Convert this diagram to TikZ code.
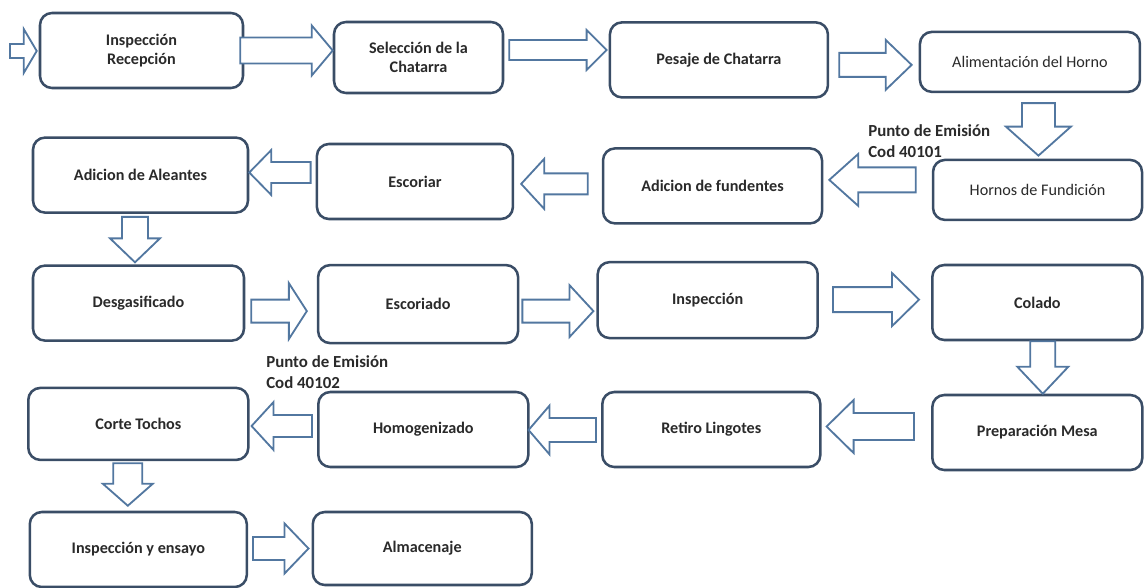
\documentclass[tikz,border=0pt]{standalone}
\usepackage{fontspec}
\setmainfont{Carlito}
\usetikzlibrary{positioning, calc}

\definecolor{boxnavy}{HTML}{3A4D66}
\definecolor{arrowblue}{HTML}{5277A0}
\definecolor{textgray}{HTML}{2A2A2A}

\tikzset{
  arrshaft/.store in=\arrshaft, arrhead/.store in=\arrhead, arrlen/.store in=\arrlen,
  arrshaft=12, arrhead=25, arrlen=24,
  barrow/.style={draw=arrowblue, line width=1.3pt, fill=white, line join=miter,
    to path={let \p1=(\tikztostart), \p2=(\tikztotarget),
      \n1={atan2(\y2-\y1,\x2-\x1)}, \n2={veclen(\x2-\x1,\y2-\y1)} in
      {[shift={(\p1)}, rotate=\n1]
        (0pt,{\arrshaft*0.25mm}) -- ({\n2*1pt-\arrlen*0.25mm},{\arrshaft*0.25mm})
        -- ({\n2*1pt-\arrlen*0.25mm},{\arrhead*0.25mm}) -- ({\n2*1pt},0pt)
        -- ({\n2*1pt-\arrlen*0.25mm},{-\arrhead*0.25mm})
        -- ({\n2*1pt-\arrlen*0.25mm},{-\arrshaft*0.25mm})
        -- (0pt,{-\arrshaft*0.25mm}) -- cycle}}}
}

\begin{document}
\begin{tikzpicture}[x=0.25mm, y=-0.25mm, on grid,
  procbox/.style={draw=boxnavy, line width=1.8pt, rounded corners=3mm, fill=white,
    align=center, text=textgray, minimum width=54mm, minimum height=18.75mm,
    inner sep=2pt, font=\fontsize{11.5}{13.5}\selectfont\bfseries},
  lighttext/.style={font=\fontsize{11.5}{13.5}\selectfont},
  emitnote/.style={align=left, text=textgray, inner sep=0pt,
    font=\fontsize{12}{15}\selectfont\bfseries}]
  \useasboundingbox (0,0) rectangle (1144,588);

  % first row, left to right
  \node[procbox, minimum width=50.75mm] (b1) at (141.5,50.5) {Inspección\\Recepción};
  \node[procbox, minimum width=42.25mm, minimum height=17.75mm] (b2) [below right=1.75mm and 69.25mm of b1] {Selección de la\\Chatarra};
  \node[procbox, minimum width=54.5mm] (b3) [below right=0.6mm and 75.1mm of b2] {Pesaje de Chatarra};
  \node[procbox, lighttext, minimum width=55mm, minimum height=15mm] (b4) [below right=0.5mm and 77.75mm of b3] {Alimentación del Horno};

  % second row, right to left
  \node[procbox, lighttext, minimum width=52.25mm, minimum height=15mm] (b5) [below right=32mm and 1.9mm of b4] {Hornos de Fundición};
  \node[procbox, minimum width=54.75mm] (b6) [above left=1mm and 81.25mm of b5] {Adicion de fundentes};
  \node[procbox, minimum width=49mm] (b7) [above left=1.1mm and 74.4mm of b6] {Escoriar};
  \node[procbox, minimum width=53.75mm] (b8) [above left=1.6mm and 68.6mm of b7] {Adicion de Aleantes};

  % third row
  \node[procbox, minimum width=52.75mm] (b9) [below left=32mm and 0.5mm of b8] {Desgasificado};
  \node[procbox, minimum width=50mm, minimum height=19.5mm] (b10) [below right=0.25mm and 69.9mm of b9] {Escoriado};
  \node[procbox, minimum width=55mm, minimum height=19mm] (b11) [above right=1mm and 72.4mm of b10] {Inspección};
  \node[procbox, minimum width=52.5mm] (b12) [below right=0.6mm and 82.4mm of b11] {Colado};

  % fourth row
  \node[procbox, minimum width=52.5mm] (b13) [below=32.5mm of b12] {Preparación Mesa};
  \node[procbox, minimum width=54.5mm] (b14) [above left=0.75mm and 81.5mm of b13] {Retiro Lingotes};
  \node[procbox, minimum width=52.5mm] (b15) [left=72mm of b14] {Homogenizado};
  \node[procbox, minimum width=55mm, minimum height=18mm] (b16) [above left=1.4mm and 71.25mm of b15] {Corte Tochos};

  % last row
  \node[procbox, minimum width=54.25mm] (b17) [below=31.4mm of b16] {Inspección y ensayo};
  \node[procbox, minimum width=54.75mm, minimum height=18.25mm] (b18) [above right=0.25mm and 71mm of b17] {Almacenaje};

  % emission points
  \node[emitnote, anchor=north west] (em1) at (868,124) {Punto de Emisión\\Cod 40101};
  \node[emitnote, anchor=north west] (em2) at (266,355) {Punto de Emisión\\Cod 40102};

  % block arrows
  \coordinate (t0) at (10,51);
  \draw[barrow, arrshaft=7, arrhead=22, arrlen=13] (t0) to ($(b1.west |- t0)+(-2,0)$);
  \draw[barrow, arrshaft=13, arrlen=21] ($(b1.east)+(-4,0)$) coordinate (t1) to (b2.west |- t1);
  \draw[barrow, arrshaft=10, arrhead=20, arrlen=20] ($(b2.east)+(5,-7.5)$) coordinate (t2) to ($(b3.west |- t2)+(-2,0)$);
  \draw[barrow, arrlen=26] ($(b3.east)+(10,5)$) coordinate (t3) to ($(b4.west |- t3)+(-7,0)$);
  \draw[barrow, arrshaft=16.5, arrhead=32.5, arrlen=29] ($(b4.south)+(8.5,10)$) coordinate (t4) to ($(b5.north -| t4)+(0,-3)$);
  \draw[barrow, arrshaft=12.5, arrhead=26, arrlen=29] ($(b5.west)+(-16,-10)$) coordinate (t5) to ($(b6.east |- t5)+(6,0)$);
  \draw[barrow, arrshaft=10.5, arrlen=23] ($(b6.west)+(-14,-2)$) coordinate (t6) to ($(b7.east |- t6)+(7,0)$);
  \draw[barrow, arrshaft=10.5, arrhead=22.5, arrlen=22] ($(b7.west)+(-5,-9)$) coordinate (t7) to (b8.east |- t7);
  \draw[barrow, arrshaft=13] ($(b8.south)+(-5.5,3)$) coordinate (t8) to ($(b9.north -| t8)+(0,-2)$);
  \draw[barrow, arrshaft=11.5, arrhead=28, arrlen=18] ($(b9.east)+(6,8)$) coordinate (t9) to ($(b10.west |- t9)+(-10,0)$);
  \draw[barrow, arrshaft=11.5, arrhead=26] ($(b10.east)+(3,7)$) coordinate (t10) to ($(b11.west |- t10)+(-3,0)$);
  \draw[barrow, arrshaft=12.5, arrhead=26.5, arrlen=27] ($(b11.east)+(14,-0.5)$) coordinate (t11) to ($(b12.west |- t11)+(-12,0)$);
  \draw[barrow, arrshaft=12.5, arrhead=25.5, arrlen=27] ($(b12.south)+(5.5,0)$) coordinate (t12) to (b13.north -| t12);
  \draw[barrow, arrshaft=13.5, arrhead=26.5, arrlen=27] ($(b13.west)+(-17,-6)$) coordinate (t13) to ($(b14.east |- t13)+(5,0)$);
  \draw[barrow, arrhead=24.5, arrlen=21] ($(b14.west)+(-5,0.5)$) coordinate (t14) to ($(b15.east |- t14)+(-1,0)$);
  \draw[barrow, arrshaft=11, arrhead=24, arrlen=22] ($(b15.west)+(-5,-3.5)$) coordinate (t15) to ($(b16.east |- t15)+(2,0)$);
  \draw[barrow, arrshaft=14.5, arrlen=22] ($(b16.south)+(-10.5,2)$) coordinate (t16) to ($(b17.north -| t16)+(0,-5)$);
  \draw[barrow, arrshaft=11.5] ($(b17.east)+(5,-1)$) coordinate (t17) to ($(b18.west |- t17)+(-3,0)$);
\end{tikzpicture}
\end{document}
